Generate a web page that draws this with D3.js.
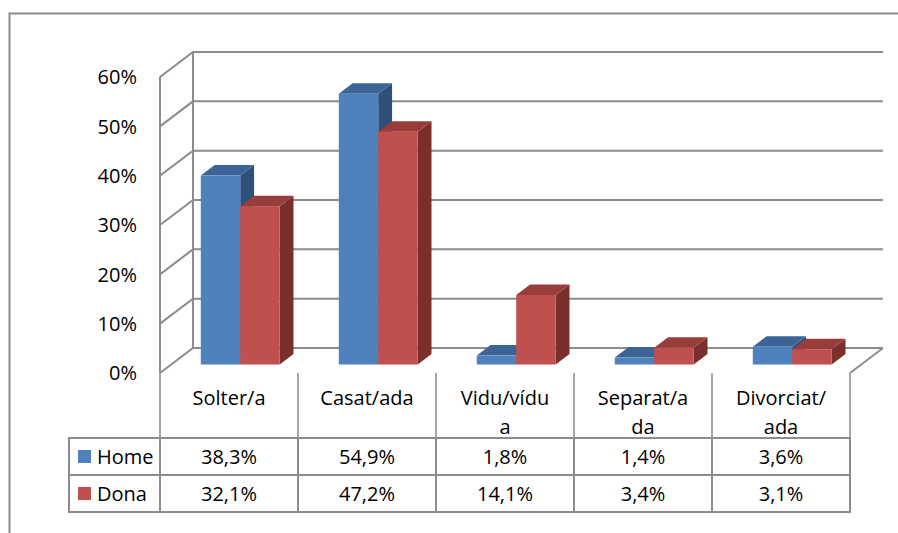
<!DOCTYPE html>
<html>
<head>
<meta charset="utf-8">
<script src="https://cdn.jsdelivr.net/npm/d3@7"></script>
<style>
  body { margin: 0; background: #fff; }
  text { font-family: "Open Sans", "Noto Sans", sans-serif; font-size: 20px; fill: #000; }
</style>
</head>
<body>
<svg id="chart" width="898" height="533"></svg>
<script>
// Data
var categories = ["Solter/a", "Casat/ada", "Vidu/vídu a", "Separat/a da", "Divorciat/ ada"];
var categoryLines = [["Solter/a"], ["Casat/ada"], ["Vidu/vídu", "a"], ["Separat/a", "da"], ["Divorciat/", "ada"]];
var series = ["Home", "Dona"];
var home = [38.3, 54.9, 1.8, 1.4, 3.6];
var dona = [32.1, 47.2, 14.1, 3.4, 3.1];
var yTicks = [0, 10, 20, 30, 40, 50, 60];

var values = { "Home": home, "Dona": dona };
var colors = {
  "Home": { front: "#4f81bd", top: "#3c6496", side: "#2f5179" },
  "Dona": { front: "#c0504d", top: "#973d3a", side: "#7b2f2d" }
};

var svg = d3.select("#chart");

// Frame: only top and left sides are inside the picture
svg.append("path")
   .attr("d", "M9.5,540V13.5H900")
   .attr("fill", "none").attr("stroke", "#8c8c8c").attr("stroke-width", 2);

// Plot geometry
var left = 160, right = 850, floorY = 373;
var depthX = 33, depthY = -25;

var x = d3.scaleBand().domain(categories).range([left, right]);
var y = d3.scaleLinear().domain([0, 60]).range([floorY, floorY - 296]);
var inner = d3.scaleBand().domain(series).range([0, x.bandwidth()]).paddingOuter(0.75).paddingInner(0);

// depth: 0 = front plane, 1 = back wall
function dx(t) { return depthX * t; }
function dy(t) { return depthY * t; }

var grid = svg.append("g")
   .attr("fill", "none").attr("stroke", "#8c8c8c").attr("stroke-width", 2);

// Back wall and side wall gridlines
yTicks.forEach(function(v) {
  grid.append("path")
      .attr("d", "M" + left + "," + y(v) +
                 "L" + (left + dx(1)) + "," + (y(v) + dy(1)) +
                 "L" + (right + dx(1)) + "," + (y(v) + dy(1)));
});
// Back wall left edge and front axis
grid.append("line")
    .attr("x1", left + dx(1)).attr("y1", y(0) + dy(1))
    .attr("x2", left + dx(1)).attr("y2", y(60) + dy(1));
grid.append("line")
    .attr("x1", left).attr("y1", y(0))
    .attr("x2", left).attr("y2", y(60));
// Floor right edge
grid.append("line")
    .attr("x1", right).attr("y1", y(0))
    .attr("x2", right + dx(1)).attr("y2", y(0) + dy(1));

// Y axis labels
svg.append("g").selectAll("text")
   .data(yTicks).enter().append("text")
   .attr("x", 137).attr("y", function(d) { return y(d); })
   .attr("dy", "0.36em")
   .attr("text-anchor", "end")
   .text(function(d) { return d + "%"; });

// 3D bars
var tFront = 0.34, tBack = 0.76;
var bars = svg.append("g");
categories.forEach(function(c, i) {
  series.forEach(function(s) {
    var v = values[s][i];
    var x0 = x(c) + inner(s) + dx(tFront), x1 = x0 + inner.bandwidth();
    var yb = y(0) + dy(tFront), yt = y(v) + dy(tFront);
    var ox = dx(tBack) - dx(tFront), oy = dy(tBack) - dy(tFront);
    var g = bars.append("g");
    g.append("path").attr("fill", colors[s].side)
     .attr("d", "M" + x1 + "," + yb + "L" + (x1 + ox) + "," + (yb + oy) +
                "L" + (x1 + ox) + "," + (yt + oy) + "L" + x1 + "," + yt + "Z");
    g.append("path").attr("fill", colors[s].top)
     .attr("d", "M" + x0 + "," + yt + "L" + (x0 + ox) + "," + (yt + oy) +
                "L" + (x1 + ox) + "," + (yt + oy) + "L" + x1 + "," + yt + "Z");
    g.append("rect").attr("fill", colors[s].front)
     .attr("x", x0).attr("y", yt).attr("width", x1 - x0).attr("height", yb - yt);
  });
});

// Data table
var headerBottom = 438, rowH = 37;
var tableLeft = 69;
var table = svg.append("g").attr("fill", "none").attr("stroke-width", 2);

// header vertical lines
x.domain().concat(["end"]).forEach(function(c) {
  var xx = c === "end" ? right : x(c);
  table.append("line").attr("stroke", "#a6a6a6")
       .attr("x1", xx).attr("y1", floorY).attr("x2", xx).attr("y2", headerBottom);
});
// rows
table.append("rect").attr("stroke", "#8c8c8c")
     .attr("x", tableLeft).attr("y", headerBottom)
     .attr("width", right - tableLeft).attr("height", rowH * 2);
table.append("line").attr("stroke", "#8c8c8c")
     .attr("x1", tableLeft).attr("y1", headerBottom + rowH)
     .attr("x2", right).attr("y2", headerBottom + rowH);
x.domain().forEach(function(c) {
  table.append("line").attr("stroke", "#8c8c8c")
       .attr("x1", x(c)).attr("y1", headerBottom).attr("x2", x(c)).attr("y2", headerBottom + rowH * 2);
});

// category labels
categories.forEach(function(c, i) {
  var t = svg.append("text")
     .attr("x", x(c) + x.bandwidth() / 2)
     .attr("y", 398)
     .attr("text-anchor", "middle");
  categoryLines[i].forEach(function(line, j) {
    t.append("tspan").attr("x", x(c) + x.bandwidth() / 2)
     .attr("dy", j === 0 ? "0.36em" : "1.45em")
     .text(line);
  });
});

// legend keys and values
function fmt(v) { return v.toFixed(1).replace(".", ",") + "%"; }
series.forEach(function(s, r) {
  var cy = headerBottom + rowH * r + rowH / 2;
  svg.append("rect").attr("x", 78).attr("y", cy - 6.5)
     .attr("width", 13).attr("height", 13).attr("fill", colors[s].front);
  svg.append("text").attr("x", 97).attr("y", cy).attr("dy", "0.36em").text(s);
  categories.forEach(function(c, i) {
    svg.append("text")
       .attr("x", x(c) + x.bandwidth() / 2).attr("y", cy).attr("dy", "0.36em")
       .attr("text-anchor", "middle")
       .text(fmt(values[s][i]));
  });
});
</script>
</body>
</html>
